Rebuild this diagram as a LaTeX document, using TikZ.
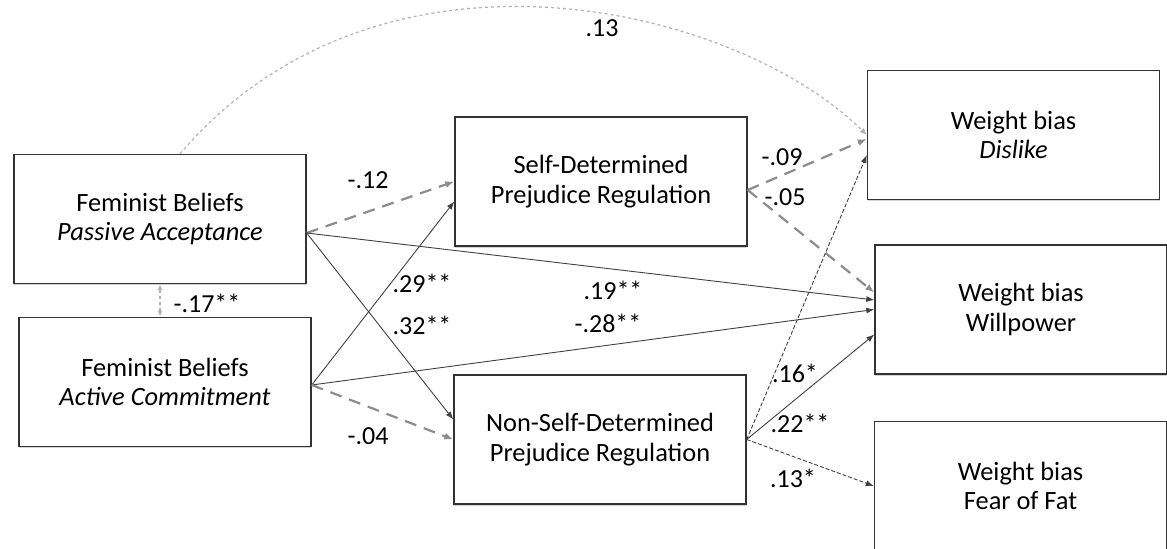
\documentclass[tikz,border=0pt]{standalone}
\usepackage{fontspec}
\setmainfont{Carlito}
\usetikzlibrary{arrows.meta,shadows}
\tikzset{
    box/.style={rectangle, draw=black!80, line width=0.7pt, fill=white, minimum width=146pt, minimum height=64.5pt, align=center, inner sep=0pt, font=\fontsize{13.2pt}{14.8pt}\selectfont, drop shadow={shadow xshift=0.2pt, shadow yshift=-0.8pt, opacity=0.35}},
    edge/.style={draw=black!75, line width=0.45pt, -{Latex[length=4pt,width=3pt]}},
    fineedge/.style={edge, dash pattern=on 2pt off 1pt},
    dashedge/.style={draw=black!45, line width=1.1pt, dash pattern=on 6pt off 4pt, -{Latex[length=4.5pt,width=3.5pt]}},
    arcedge/.style={draw=black!30, line width=0.6pt, dash pattern=on 1.5pt off 1.5pt, -{Latex[length=3.5pt,width=3pt]}},
    corr/.style={draw=black!30, line width=0.6pt, dash pattern=on 1.5pt off 1.5pt, {Latex[length=3pt,width=2.5pt]}-{Latex[length=3pt,width=2.5pt]}},
    weight/.style={inner sep=1pt, font=\fontsize{13pt}{14.8pt}\selectfont}
}

\begin{document}
\begin{tikzpicture}[x=0.5pt, y=-0.5pt]
    \useasboundingbox (0,0) rectangle (1167,549);

    % Nodes
    \node[box] (pa) at (160,219) {Feminist Beliefs\\\textit{Passive Acceptance}};
    \node[box] (ac) at (165,382) {Feminist Beliefs\\\textit{Active Commitment}};
    \node[box] (sd) at (601,181.5) {Self-Determined\\Prejudice Regulation};
    \node[box] (nsd) at (600,439.5) {Non-Self-Determined\\Prejudice Regulation};
    \node[box] (dis) at (1013.5,135) {Weight bias\\\textit{Dislike}};
    \node[box] (wil) at (1021,309.5) {Weight bias\\Willpower};
    \node[box] (fof) at (1020.5,486) {Weight bias\\Fear of Fat};

    % exit points
    \coordinate (pa-out) at ([yshift=-7pt]pa.east);
    \coordinate (ac-out) at ([yshift=-1.5pt]ac.east);
    \coordinate (sd-out) at ([yshift=-4.25pt]sd.east);

    % edges
    \draw[dashedge] (pa-out) -- (sd.west);
    \draw[edge] (pa-out) -- ([yshift=4.75pt]wil.west);
    \draw[edge] (pa-out) -- ([yshift=10pt]nsd.west);
    \draw[edge] (ac-out) -- ([yshift=-10pt]sd.west);
    \draw[edge] (ac-out) -- (wil.west);
    \draw[dashedge] (ac-out) -- (nsd.west);
    \draw[dashedge] (sd-out) -- ([yshift=-2pt]dis.west);
    \draw[dashedge] (sd-out) -- ([yshift=8.5pt]wil.west);
    \draw[fineedge] (nsd.east) -- ([yshift=-10pt]dis.west);
    \draw[edge] (nsd.east) -- ([yshift=-12.5pt]wil.west);
    \draw[fineedge] (nsd.east) -- (fof.west);
    \draw[arcedge] ([xshift=10pt]pa.north) .. controls (380,-80) and (735,5) .. (dis.west);
    \draw[corr] (pa.south) -- (pa.south |- ac.north);

    % weights
    \node[weight] (w-pa-sd) at (368,180) {-.12};
    \node[weight] (w-pa-wil) at (613,290) {.19**};
    \node[weight] (w-pa-nsd) at (422,325) {.32**};
    \node[weight] (w-ac-sd) at (422,283) {.29**};
    \node[weight] (w-ac-wil) at (608,323) {-.28**};
    \node[weight] (w-ac-nsd) at (368,436) {-.04};
    \node[weight] (w-sd-dis) at (782,157) {-.09};
    \node[weight] (w-sd-wil) at (785,197) {-.05};
    \node[weight] (w-nsd-dis) at (795,373) {.16*};
    \node[weight] (w-nsd-wil) at (800,423) {.22**};
    \node[weight] (w-nsd-fof) at (793,478) {.13*};
    \node[weight] (w-arc) at (602,28) {.13};
    \node[weight] (w-corr) at (207,303) {-.17**};
\end{tikzpicture}
\end{document}
